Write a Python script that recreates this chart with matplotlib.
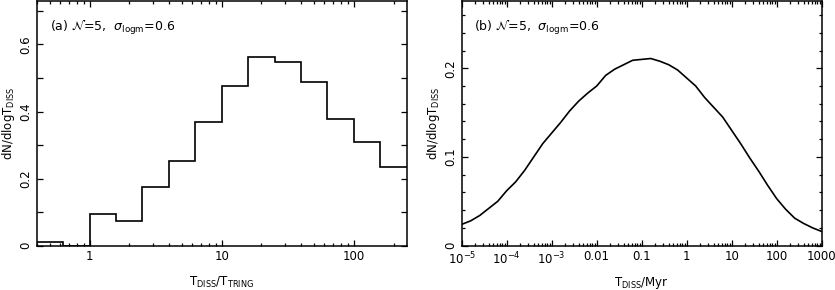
import matplotlib
matplotlib.use("Agg")
import matplotlib.pyplot as plt
import matplotlib.ticker as tk
import numpy as np

plt.rcParams['font.family'] = ['DejaVu Sans']
plt.rcParams['mathtext.fontset'] = 'dejavusans'

# panel (a): histogram, bins of 0.2 dex in T_DISS/T_TRING
log_edges = [-0.4, -0.2, 0.0, 0.2, 0.4, 0.6, 0.8, 1.0, 1.2, 1.4, 1.6, 1.8, 2.0, 2.2, 2.4]
hist_vals = [0.012, 0.0, 0.094, 0.072, 0.174, 0.253, 0.368, 0.475, 0.563, 0.549,
             0.487, 0.377, 0.310, 0.234]

# panel (b): curve vs T_DISS/Myr
log_t = [-5.0, -4.8, -4.6, -4.4, -4.2, -4.0, -3.8, -3.6, -3.4, -3.2, -3.0, -2.8, -2.6,
         -2.4, -2.2, -2.0, -1.8, -1.6, -1.4, -1.2, -1.0, -0.8, -0.6, -0.4, -0.2, 0.0,
         0.2, 0.4, 0.6, 0.8, 1.0, 1.2, 1.4, 1.6, 1.8, 2.0, 2.2, 2.4, 2.6, 2.8, 3.0]
curve = [0.024, 0.028, 0.034, 0.042, 0.050, 0.062, 0.072, 0.085, 0.100, 0.115, 0.127,
         0.139, 0.152, 0.163, 0.172, 0.180, 0.192, 0.199, 0.204, 0.209, 0.210, 0.211,
         0.208, 0.204, 0.198, 0.189, 0.180, 0.167, 0.156, 0.145, 0.130, 0.115, 0.099,
         0.084, 0.068, 0.053, 0.041, 0.031, 0.025, 0.020, 0.016]

ylab = r'dN/dlogT$_{\rm DISS}$'
fs = 8.5

fig = plt.figure(figsize=(8.35, 2.9), dpi=100)
ax1 = fig.add_axes([0.044, 0.153, 0.443, 0.844])
ax2 = fig.add_axes([0.553, 0.153, 0.431, 0.844])

def style(ax):
    for s in ax.spines.values():
        s.set_linewidth(1.1)
    ax.tick_params(which='both', direction='in', top=True, right=True,
                   labelsize=fs, width=0.9, pad=3.5)
    ax.tick_params(which='major', length=4.5)
    ax.tick_params(which='minor', length=2.5)
    for t in ax.get_yticklabels():
        t.set_rotation(90)
        t.set_va('center')

def annot(ax, tag):
    ax.text(0.035, 0.93, '(' + tag + ') ' + r'$\mathcal{N}$=5,  $\sigma_{\rm logm}$=0.6',
            transform=ax.transAxes, fontsize=fs + 0.5, va='top', ha='left')

# (a)
ax1.stairs(hist_vals, 10 ** np.array(log_edges), color='black', lw=1.2, baseline=None)
ax1.set_xscale('log')
ax1.set_xlim(10 ** log_edges[0], 10 ** log_edges[-1])
ax1.set_ylim(0, 0.73)
ax1.xaxis.set_major_locator(tk.FixedLocator([1, 10, 100]))
ax1.xaxis.set_major_formatter(tk.FixedFormatter(['1', '10', '100']))
ax1.xaxis.set_minor_locator(tk.LogLocator(base=10, subs=np.arange(2, 10), numticks=20))
ax1.xaxis.set_minor_formatter(tk.NullFormatter())
ax1.yaxis.set_major_locator(tk.MultipleLocator(0.2))
ax1.yaxis.set_minor_locator(tk.MultipleLocator(0.1))
ax1.yaxis.set_major_formatter(tk.FuncFormatter(lambda v, p: '0' if abs(v) < 1e-9 else f'{v:.1f}'))
style(ax1)
ax1.tick_params(axis='y', which='minor', length=4.5)
ax1.set_xlabel(r'T$_{\rm DISS}$/T$_{\rm TRING}$', fontsize=fs)
ax1.xaxis.set_label_coords(0.5, -0.118)
ax1.set_ylabel(ylab, fontsize=fs)
ax1.yaxis.set_label_coords(-0.053, 0.5)
annot(ax1, 'a')

# (b)
ax2.plot(10 ** np.array(log_t), curve, color='black', lw=1.2)
ax2.set_xscale('log')
ax2.set_xlim(1e-5, 1e3)
ax2.set_ylim(0, 0.276)
xt = [1e-5, 1e-4, 1e-3, 1e-2, 1e-1, 1, 10, 100, 1000]
xtl = [r'10$^{-5}$', r'10$^{-4}$', r'10$^{-3}$', '0.01', '0.1', '1', '10', '100', '1000']
ax2.xaxis.set_major_locator(tk.FixedLocator(xt))
ax2.xaxis.set_major_formatter(tk.FixedFormatter(xtl))
ax2.xaxis.set_minor_locator(tk.LogLocator(base=10, subs=np.arange(2, 10), numticks=30))
ax2.xaxis.set_minor_formatter(tk.NullFormatter())
ax2.yaxis.set_major_locator(tk.MultipleLocator(0.1))
ax2.yaxis.set_minor_locator(tk.MultipleLocator(0.02))
ax2.yaxis.set_major_formatter(tk.FuncFormatter(lambda v, p: '0' if abs(v) < 1e-9 else f'{v:.1f}'))
style(ax2)
ax2.set_xlabel(r'T$_{\rm DISS}$/Myr', fontsize=fs)
ax2.xaxis.set_label_coords(0.5, -0.118)
ax2.set_ylabel(ylab, fontsize=fs)
ax2.yaxis.set_label_coords(-0.056, 0.5)
annot(ax2, 'b')

fig.savefig('out.png', dpi=100)
